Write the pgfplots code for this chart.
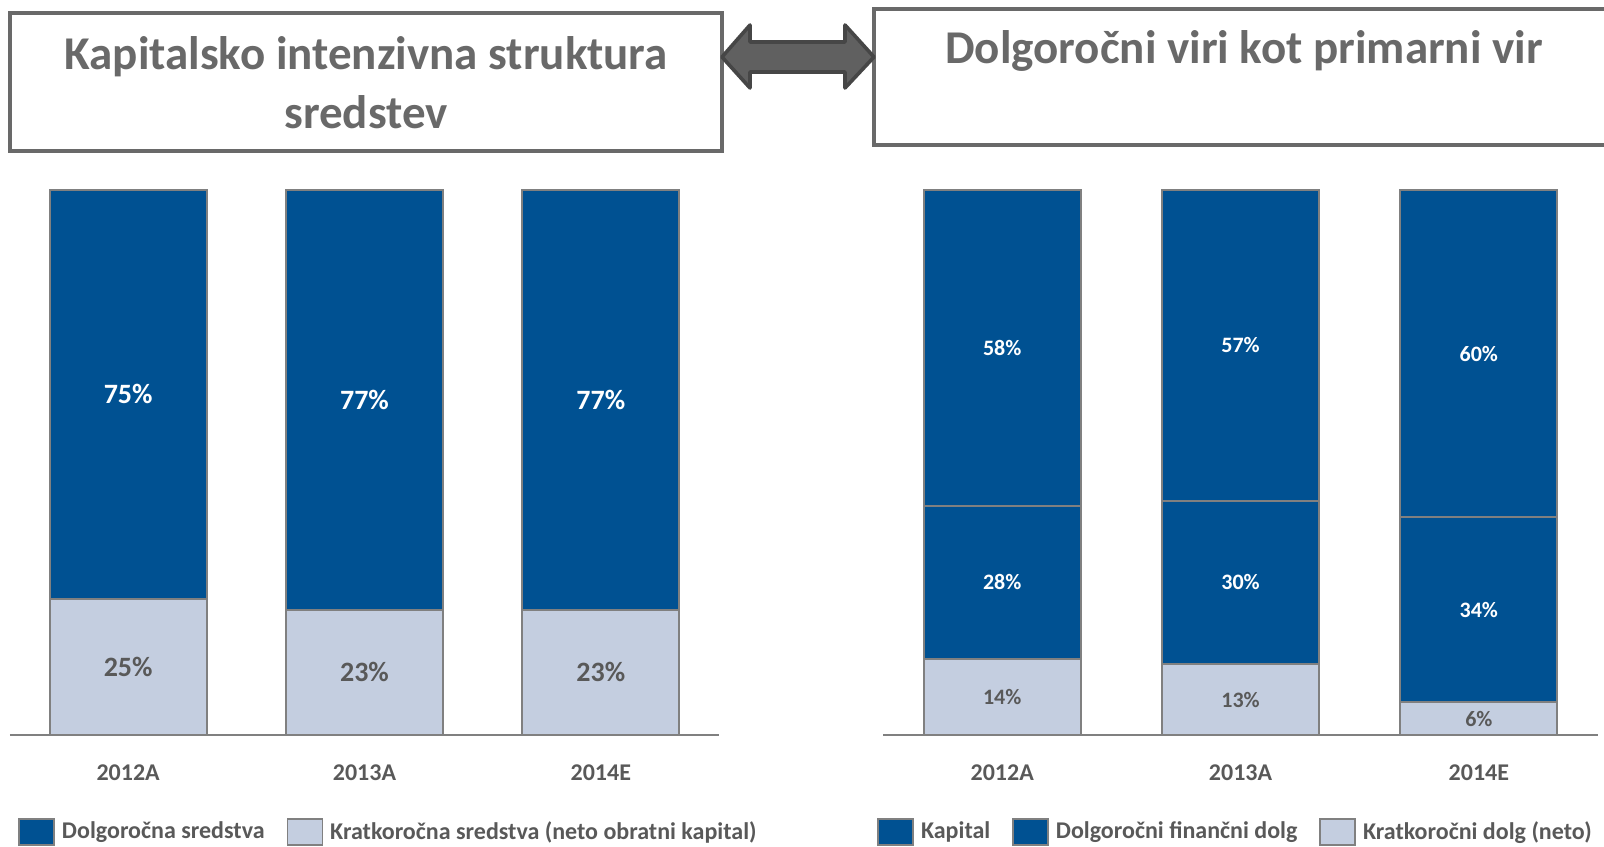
\documentclass[border=0pt]{standalone}
\usepackage{fontspec}
\setmainfont{Carlito}
\usepackage{pgfplots}
\pgfplotsset{compat=1.18}

\definecolor{darkblue}{RGB}{0,81,146}
\definecolor{lightblue}{RGB}{196,206,224}
\definecolor{txtgray}{RGB}{89,89,89}
\definecolor{linegray}{RGB}{128,128,128}
\definecolor{boxgray}{RGB}{105,105,105}
\definecolor{arrowfill}{RGB}{96,96,96}
\definecolor{arrowdraw}{RGB}{70,70,70}

% 1 px of the reference = 0.5pt
\pgfplotsset{
  stackbars/.style={
    ybar stacked, scale only axis,
    height=272.5pt, bar width=78.5pt,
    xmin=-0.5, xmax=2.5, ymin=0, ymax=100,
    axis x line=bottom, axis y line=none,
    axis line style={linegray, line width=1pt, -},
    xtick={0,1,2}, xticklabels={2012A,2013A,2014E},
    xtick style={draw=none}, ytick=\empty,
    xticklabel style={font=\bfseries\fontsize{12}{14}\selectfont, text=txtgray, yshift=-9pt},
    clip=false,
    visualization depends on=rawy\as\rawy,
    nodes near coords={\pgfmathprintnumber[assume math mode=true,fixed,precision=0]{\rawy}\%},
    every node near coord/.append style={anchor=center, font=\bfseries\fontsize{#1}{#1}\selectfont},
    legend columns=-1,
    legend style={draw=none, fill=none, font=\bfseries\fontsize{12}{14}\selectfont, text=txtgray,
      at={(axis description cs:0,0)}, anchor=west,
      /tikz/every odd column/.append style={column sep=1.5pt},
      /tikz/every even column/.append style={column sep=9pt}},
    legend image code/.code={\draw[##1,draw=linegray,line width=0.8pt] (0pt,-6.5pt) rectangle (17.5pt,6.5pt);},
  },
  segdark/.style={fill=darkblue, draw=linegray, line width=0.9pt, nodes near coords style={text=white}},
  seglight/.style={fill=lightblue, draw=linegray, line width=0.9pt, nodes near coords style={text=txtgray}},
}

\begin{document}
\begin{tikzpicture}
\useasboundingbox (0,0) rectangle (802pt,-423pt);

% title boxes
\draw[boxgray, line width=2pt] (5pt,-6.5pt) rectangle (361pt,-75.5pt);
\node[text=boxgray, font=\bfseries\fontsize{23.5}{29.5}\selectfont, align=center] at (183pt,-41.5pt)
  {Kapitalsko intenzivna struktura\\sredstev};
\draw[boxgray, line width=2pt] (437pt,-4.5pt) rectangle (806pt,-72.5pt);
\node[text=boxgray, font=\bfseries\fontsize{23.5}{29.5}\selectfont] at (622pt,-25.5pt)
  {Dolgoročni viri kot primarni vir};

% double arrow between the boxes
\draw[arrowdraw, fill=arrowfill, line width=1.8pt, line join=round]
  (361pt,-28.5pt) -- (375pt,-12.5pt) -- (375pt,-21pt) -- (422.5pt,-21pt) -- (422.5pt,-12.5pt)
  -- (437pt,-28.5pt) -- (422.5pt,-44pt) -- (422.5pt,-36pt) -- (375pt,-36pt) -- (375pt,-44pt) -- cycle;

% left chart
\begin{axis}[stackbars=14, at={(5pt,-367.5pt)}, anchor=south west, width=354.5pt,
  legend style={xshift=1pt, yshift=-48.5pt}]
\addplot[seglight, forget plot] coordinates {(0,25) (1,23) (2,23)};
\addplot[segdark, forget plot] coordinates {(0,75) (1,77) (2,77)};
\addlegendimage{segdark}
\addlegendentry{Dolgoročna sredstva}
\addlegendimage{seglight}
\addlegendentry{Kratkoročna sredstva (neto obratni kapital)}
\end{axis}

% right chart
\begin{axis}[stackbars=11, at={(441.5pt,-367.5pt)}, anchor=south west, width=357.5pt,
  legend style={xshift=-6pt, yshift=-48.5pt}]
\addplot[seglight, forget plot] coordinates {(0,14) (1,13) (2,6)};
\addplot[segdark, forget plot] coordinates {(0,28) (1,30) (2,34)};
\addplot[segdark, forget plot] coordinates {(0,58) (1,57) (2,60)};
\addlegendimage{segdark}
\addlegendentry{Kapital}
\addlegendimage{segdark}
\addlegendentry{Dolgoročni finančni dolg\hspace{4pt}}
\addlegendimage{seglight}
\addlegendentry{Kratkoročni dolg (neto)}
\end{axis}
\end{tikzpicture}
\end{document}
